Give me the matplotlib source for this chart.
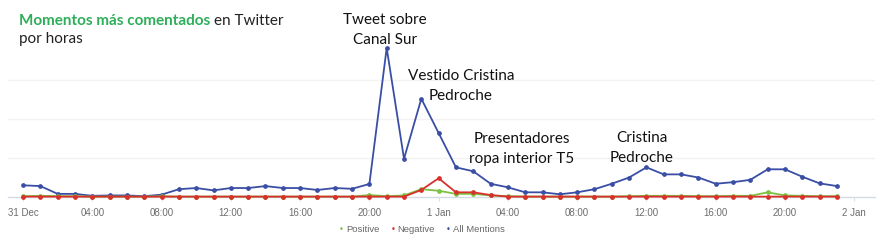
import matplotlib
matplotlib.use("Agg")
import matplotlib.pyplot as plt

hours = list(range(48))
all_mentions = [15, 14, 4, 4, 1.5, 2, 2, 1, 3, 10, 11.5, 8.5, 11.5, 11.5, 14, 11.5,
                11.5, 9, 11.5, 10.5, 16.7, 191, 49, 126, 82, 38, 33, 17, 12.4, 6, 6, 3.5,
                6, 10, 17, 25, 38, 29, 29, 25, 17, 19, 22, 35.5, 35.5, 26, 17.5, 14]
negative = [0.5] * 23 + [9, 24, 6, 6, 2.5] + [0.5] * 20
positive = [1, 1.5, 1, 1, 0.5, 0.5, 0.5, 0.5, 1, 0.5, 0.5, 0.5, 0.5, 0.5, 0.5, 0.5,
            0.5, 0.5, 0.5, 0.5, 2.5, 1, 2, 10, 8, 4, 4, 2, 1, 0.5, 0.5, 0.5,
            0.5, 0.5, 0.5, 1, 1.5, 1.5, 1.5, 1, 1, 1.5, 1.5, 6, 2, 1.5, 1, 1]
tick_hours = [0, 4, 8, 12, 16, 20, 24, 28, 32, 36, 40, 44, 48]
tick_labels = ["31 Dec", "04:00", "08:00", "12:00", "16:00", "20:00", "1 Jan",
               "04:00", "08:00", "12:00", "16:00", "20:00", "2 Jan"]
annotations = [
    (["Tweet sobre", "Canal Sur"], 385, [20, 40]),
    (["Vestido Cristina", "Pedroche"], 461, [76, 96]),
    (["Presentadores", "ropa interior T5"], 522, [139, 159]),
    (["Cristina", "Pedroche"], 642, [138, 158]),
]

W, H = 879, 241
fig = plt.figure(figsize=(W / 100, H / 100), dpi=100)
ax = fig.add_axes([8 / W, 1 - 197 / H, (875 - 8) / W, (197 - 41) / H])
ax.set_xlim(-0.87, 49.2)
ax.set_ylim(0, 200)

for y in [50, 100, 150]:
    ax.axhline(y, color="#f2f2f2", lw=1.0, zorder=0)

c_all = "#3a4ea6"
c_neg = "#d9302b"
c_pos = "#7cc142"
ax.plot(hours, all_mentions, color=c_all, lw=1.3, marker="o", ms=2.4, zorder=3, clip_on=False)
ax.plot(hours, positive, color=c_pos, lw=1.3, marker="o", ms=2.4, zorder=4, clip_on=False)
ax.plot(hours, negative, color=c_neg, lw=1.3, marker="o", ms=2.4, zorder=5, clip_on=False)

for s in ["top", "right", "left"]:
    ax.spines[s].set_visible(False)
ax.spines["bottom"].set_color("#d5dbe5")
ax.spines["bottom"].set_linewidth(1.0)
ax.set_yticks([])
ax.set_xticks(tick_hours)
ax.set_xticklabels(tick_labels, fontsize=7, color="#6d6d6d", family="Liberation Sans")
ax.tick_params(axis="x", length=3, width=0.6, color="#d5dbe5", pad=5)

def px(x, y):
    return x / W, 1 - y / H

# title
t1 = fig.text(*px(19, 21), "Momentos más comentados", fontsize=11, color="#2fae5a",
              fontweight="bold", family="Lato", va="center", ha="left")
fig.canvas.draw()
bb = t1.get_window_extent()
fig.text((bb.x1 + 4) / W, 1 - 21 / H, "en Twitter", fontsize=11, color="#222222",
         family="Lato", va="center", ha="left")
fig.text(*px(19, 39), "por horas", fontsize=11, color="#222222", family="Lato",
         va="center", ha="left")

for lines, x, ys in annotations:
    for line, y in zip(lines, ys):
        fig.text(*px(x, y), line, fontsize=11, color="#111111", family="Lato",
                 ha="center", va="center")

# legend
lx = 339
ly = 230
items = [("Positive", c_pos), ("Negative", c_neg), ("All Mentions", c_all)]
for label, col in items:
    fig.text(*px(lx, ly), "•", color=col, fontsize=6, ha="left", va="center",
             family="DejaVu Sans")
    t = fig.text(*px(lx + 7, ly), label, color="#666666", fontsize=6.8, ha="left",
                 va="center", family="Liberation Sans")
    fig.canvas.draw()
    b = t.get_window_extent()
    lx = b.x1 + 11

fig.savefig("out.png", dpi=100)
